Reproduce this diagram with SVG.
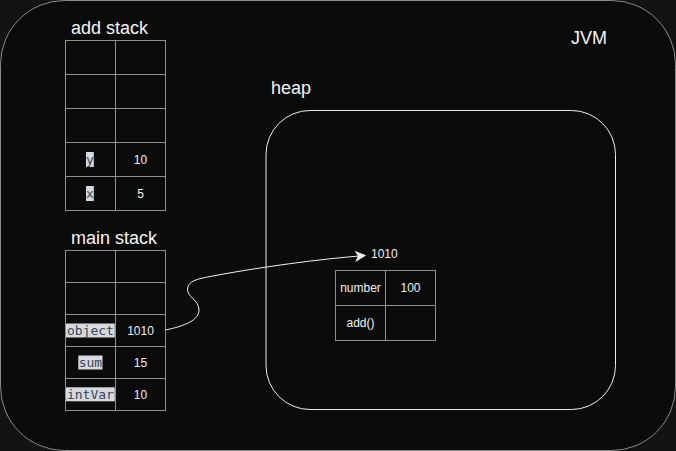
<svg xmlns="http://www.w3.org/2000/svg" width="676" height="451" viewBox="0 0 676 451">
<style>
.cell{fill:none;stroke:#8f8f8f;stroke-width:1}
.t{font-family:"Liberation Sans",Arial,sans-serif;font-size:12px;fill:#f0f0f0;text-anchor:middle}
.title{font-family:"Liberation Sans",Arial,sans-serif;font-size:18px;fill:#f4f4f4}
.mono{font-family:"DejaVu Sans Mono","Liberation Mono",monospace;font-size:13px;fill:#3b4656;text-anchor:middle}
.lbg{fill:#d6d9de}
</style>
<defs>
<marker id="arr" markerUnits="userSpaceOnUse" markerWidth="12" markerHeight="12" viewBox="-10 -6 12 12" refX="0" refY="0" orient="auto">
<path d="M0,0 L-9,-4.5 L-6.5,0 L-9,4.5 Z" fill="#f0f0f0" stroke="#f0f0f0" stroke-width="1" stroke-linejoin="miter"/>
</marker>
</defs>
<rect x="0" y="0" width="676" height="451" fill="#131313"/>
<g id="jvm">
<rect x="0.5" y="0.5" width="675" height="450" rx="64" ry="64" fill="#0b0b0b" stroke="#8a8a8a" stroke-width="1"/>
<text class="title" x="571" y="44">JVM</text>
</g>
<g id="heap">
<rect x="266" y="110.5" width="349.5" height="299" rx="44" ry="44" fill="none" stroke="#ececec" stroke-width="1"/>
<text class="title" x="271" y="94">heap</text>
</g>
<g id="add-stack">
<text class="title" x="71" y="34">add stack</text>
<rect class="cell" x="65.5" y="40.5" width="50" height="34"/>
<rect class="cell" x="115.5" y="40.5" width="50" height="34"/>
<rect class="cell" x="65.5" y="74.5" width="50" height="34"/>
<rect class="cell" x="115.5" y="74.5" width="50" height="34"/>
<rect class="cell" x="65.5" y="108.5" width="50" height="34"/>
<rect class="cell" x="115.5" y="108.5" width="50" height="34"/>
<rect class="cell" x="65.5" y="142.5" width="50" height="34"/>
<rect class="cell" x="115.5" y="142.5" width="50" height="34"/>
<rect class="cell" x="65.5" y="176.5" width="50" height="34"/>
<rect class="cell" x="115.5" y="176.5" width="50" height="34"/>
<rect class="lbg" x="86" y="152" width="7.8" height="15"/>
<text class="mono" x="90" y="164">y</text>
<rect class="lbg" x="86" y="186" width="7.8" height="15"/>
<text class="mono" x="90" y="198">x</text>
<text class="t" x="140.5" y="163.5">10</text>
<text class="t" x="140.5" y="197.5">5</text>
</g>
<g id="main-stack">
<text class="title" x="71" y="244">main stack</text>
<rect class="cell" x="65.5" y="250.5" width="50" height="32"/>
<rect class="cell" x="115.5" y="250.5" width="50" height="32"/>
<rect class="cell" x="65.5" y="282.5" width="50" height="32"/>
<rect class="cell" x="115.5" y="282.5" width="50" height="32"/>
<rect class="cell" x="65.5" y="314.5" width="50" height="32"/>
<rect class="cell" x="115.5" y="314.5" width="50" height="32"/>
<rect class="cell" x="65.5" y="346.5" width="50" height="32"/>
<rect class="cell" x="115.5" y="346.5" width="50" height="32"/>
<rect class="cell" x="65.5" y="378.5" width="50" height="32"/>
<rect class="cell" x="115.5" y="378.5" width="50" height="32"/>
<rect class="lbg" x="66" y="323.5" width="48.8" height="14"/>
<text class="mono" x="90.4" y="335">object</text>
<rect class="lbg" x="78.3" y="355.5" width="24.2" height="14"/>
<text class="mono" x="90.4" y="367">sum</text>
<rect class="lbg" x="66" y="387.3" width="48.8" height="14"/>
<text class="mono" x="90.4" y="399">intVar</text>
<text class="t" x="140.5" y="334.5">1010</text>
<text class="t" x="140.5" y="366.5">15</text>
<text class="t" x="140.5" y="398.5">10</text>
</g>
<g id="object">
<text class="t" x="371" y="258" style="text-anchor:start">1010</text>
<rect class="cell" x="335.5" y="270.5" width="50" height="35"/>
<rect class="cell" x="385.5" y="270.5" width="50" height="35"/>
<rect class="cell" x="335.5" y="305.5" width="50" height="35"/>
<rect class="cell" x="385.5" y="305.5" width="50" height="35"/>
<text class="t" x="360.5" y="292">number</text>
<text class="t" x="410.5" y="292">100</text>
<text class="t" x="360.5" y="327">add()</text>
</g>
<g id="connectors">
<path d="M165.5,330 C185,326 199,320 199,310 C199,300 187,297 187.5,289 C188,281 197,279 210,276.5 C260,267 320,259 365,255.5" fill="none" stroke="#f0f0f0" stroke-width="1" marker-end="url(#arr)"/>
</g>
</svg>
